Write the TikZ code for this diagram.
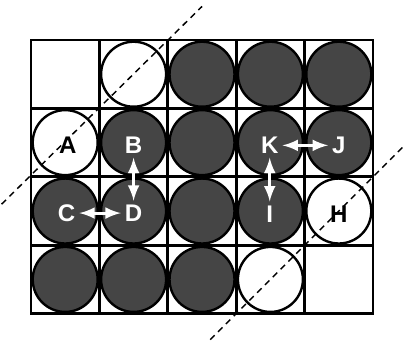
\documentclass[tikz,border=0pt]{standalone}
\usepackage{fontspec}
\setmainfont{Liberation Sans}
\usepackage{tikz}
\usepackage{xcolor}

\begin{document}
\begin{tikzpicture}[x=1cm,y=1cm,
  every node/.style={font=\fontsize{10}{12}\selectfont\bfseries,inner sep=1pt},
  dark/.style={fill=black!73,draw=black,line width=1pt},
  light/.style={fill=white,draw=black,line width=1pt},
  wlbl/.style={text=white},
  swap/.style={white,line width=1.2pt,<->,>=latex,shorten <=0.5pt,shorten >=0.5pt},
  cut/.style={line width=0.6pt,dash pattern=on 2.6pt off 2pt}]
\useasboundingbox (-0.453,-0.468) rectangle (5.453,4.585);
\draw[line width=1.1pt] (0,0) grid (5,4);
% top row
\draw[light] (1.5,3.5) circle (0.475);
\draw[dark] (2.5,3.5) circle (0.475);
\draw[dark] (3.5,3.5) circle (0.475);
\draw[dark] (4.5,3.5) circle (0.475);
% second row
\draw[light] (0.5,2.5) circle (0.475);
\draw[dark] (1.5,2.5) circle (0.475);
\draw[dark] (2.5,2.5) circle (0.475);
\draw[dark] (3.5,2.5) circle (0.475);
\draw[dark] (4.5,2.5) circle (0.475);
% third row
\draw[dark] (0.5,1.5) circle (0.475);
\draw[dark] (1.5,1.5) circle (0.475);
\draw[dark] (2.5,1.5) circle (0.475);
\draw[dark] (3.5,1.5) circle (0.475);
\draw[light] (4.5,1.5) circle (0.475);
% bottom row
\draw[dark] (0.5,0.5) circle (0.475);
\draw[dark] (1.5,0.5) circle (0.475);
\draw[dark] (2.5,0.5) circle (0.475);
\draw[light] (3.5,0.5) circle (0.475);
\draw[line width=1.1pt] (0,0) rectangle (5,4);
% cut lines
\draw[cut] (-0.43,1.6) -- (2.5,4.49);
\draw[cut] (2.62,-0.38) -- (5.43,2.43);
% labels
\node (A) at (0.54,2.46) {A};
\node[wlbl] (B) at (1.5,2.46) {B};
\node[wlbl] (C) at (0.52,1.47) {C};
\node[wlbl] (D) at (1.5,1.47) {D};
\node (H) at (4.5,1.46) {H};
\node[wlbl] (I) at (3.49,1.46) {I};
\node[wlbl] (J) at (4.5,2.46) {J};
\node[wlbl] (K) at (3.49,2.46) {K};
\draw[swap] (B) -- (D);
\draw[swap] (C) -- (D);
\draw[swap] (K) -- (J);
\draw[swap] (K) -- (I);
\end{tikzpicture}
\end{document}
